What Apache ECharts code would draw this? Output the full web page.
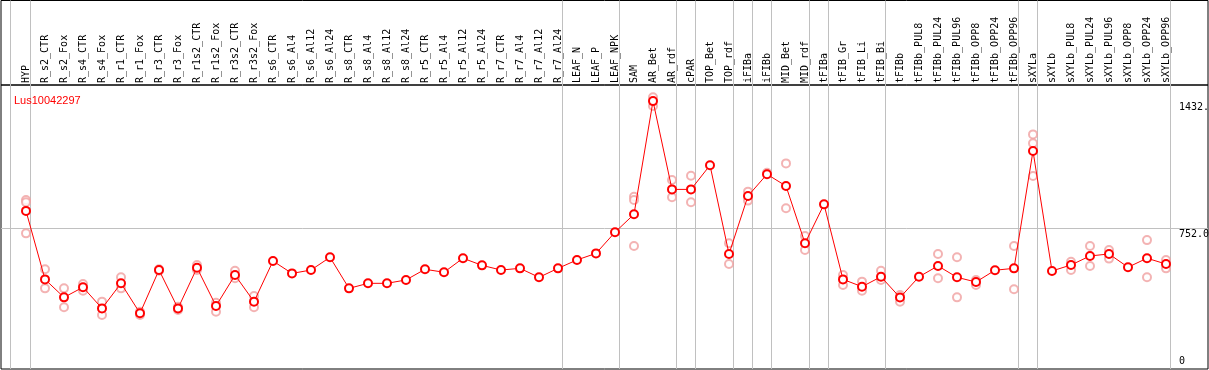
<!DOCTYPE html>
<html>
<head>
<meta charset="utf-8">
<script src="https://cdn.jsdelivr.net/npm/echarts@6/dist/echarts.min.js"></script>
<style>html,body{margin:0;padding:0;background:#fff;}#c{width:1209px;height:370px;}</style>
</head>
<body>
<div id="c"></div>
<script>
const title = 'Lus10042297';
const categories = ['HYP','R_s2_CTR','R_s2_Fox','R_s4_CTR','R_s4_Fox','R_r1_CTR','R_r1_Fox','R_r3_CTR','R_r3_Fox','R_r1s2_CTR','R_r1s2_Fox','R_r3s2_CTR','R_r3s2_Fox','R_s6_CTR','R_s6_Al4','R_s6_Al12','R_s6_Al24','R_s8_CTR','R_s8_Al4','R_s8_Al12','R_s8_Al24','R_r5_CTR','R_r5_Al4','R_r5_Al12','R_r5_Al24','R_r7_CTR','R_r7_Al4','R_r7_Al12','R_r7_Al24','LEAF_N','LEAF_P','LEAF_NPK','SAM','AR_Bet','AR_rdf','cPAR','TOP_Bet','TOP_rdf','iFIBa','iFIBb','MID_Bet','MID_rdf','tFIBa','tFIB_Gr','tFIB_Li','tFIB_Bi','tFIBb','tFIBb_PUL8','tFIBb_PUL24','tFIBb_PUL96','tFIBb_OPP8','tFIBb_OPP24','tFIBb_OPP96','sXYLa','sXYLb','sXYLb_PUL8','sXYLb_PUL24','sXYLb_PUL96','sXYLb_OPP8','sXYLb_OPP24','sXYLb_OPP96'];
const groupSizes = [1,28,3,3,1,2,1,1,2,1,3,7,1,7];
const meanValues = [845,479,383,437,324,458,298,529,324,541,337,502,360,577,511,529,597,431,458,458,476,533,517,592,554,529,538,490,538,583,618,731,827,1432,960,960,1089,615,925,1041,978,672,880,479,440,493,382,493,551,490,465,528,538,1165,524,556,604,615,544,592,561];
const replicates = [[903,891,725],[533,431],[431,330],[454,418],[360,289],[490,431],[306,289],[533,525],[333,315],[556,529],[354,306],[525,485],[390,330],
[],[],[],[],[],[],[],[],[],[],[],[],[],[],[],[],[],[],[],
[921,903,657],[1452,1406],[1010,918],[1033,891],[],[672,561],[948,900],[1049],[1099,859],[711,636],[],[502,449],[467,418],[525,476],
[396,360],[],[615,485],[597,383],[476,449],[],[657,426],
[1254,1206,1032],[],[573,529],[657,551],[636,590],[],[689,490],[583,538]];
const yTickValues = [0, 752, 1432];
const yTickLabels = ['0', '752.0', '1432.'];

// layout
const xMin = (1 - 26) / 19, xMax = (1208 - 26) / 19;
const YMAX = 1518;
const sepOffset = 0.21;
const separators = [-0.842];
let acc = 0;
groupSizes.forEach(g => { acc += g; separators.push(acc - 1 + sepOffset); });
const labelIdx = categories.map((c, i) => i);

const repData = [];
replicates.forEach((arr, i) => arr.forEach(v => repData.push([i, v])));
const meanData = meanValues.map((v, i) => [i, v]);

const mono = 'DejaVu Sans Mono';
const chart = echarts.init(document.getElementById('c'), null, {renderer: 'canvas'});
chart.setOption({
  animation: false,
  backgroundColor: '#fff',
  title: {text: title, left: 9, top: 90, textStyle: {color: '#ff0000', fontSize: 11, fontWeight: 'normal', fontFamily: 'Liberation Sans'}},
  grid: [
    {left: 1, right: 1, top: 0.5, height: 84.5, show: true, borderColor: '#000', borderWidth: 1, backgroundColor: 'transparent', containLabel: false, outerBoundsMode: 'none'},
    {left: 1, right: 1, top: 85, bottom: 1, show: true, borderColor: '#000', borderWidth: 1, backgroundColor: 'transparent', containLabel: false, outerBoundsMode: 'none'}
  ],
  xAxis: [
    {type: 'value', gridIndex: 0, min: xMin, max: xMax, position: 'bottom',
     axisLine: {show: false},
     axisTick: {show: false, customValues: separators},
     splitLine: {show: true, lineStyle: {color: '#c0c0c0', width: 1}},
     axisLabel: {show: true, inside: true, rotate: 90, margin: 2, customValues: labelIdx,
       formatter: v => categories[Math.round(v)] || '', fontFamily: mono, fontSize: 10, color: '#000'}},
    {type: 'value', gridIndex: 1, min: xMin, max: xMax, position: 'top',
     axisLine: {show: false},
     axisTick: {show: false, customValues: separators},
     splitLine: {show: true, lineStyle: {color: '#c0c0c0', width: 1}},
     axisLabel: {show: false}}
  ],
  yAxis: [
    {type: 'value', gridIndex: 0, min: 0, max: 1, show: false},
    {type: 'value', gridIndex: 1, min: 0, max: YMAX, position: 'right', offset: -29,
     axisLine: {show: false},
     axisTick: {show: false, customValues: [yTickValues[1]]},
     splitLine: {show: true, lineStyle: {color: '#c0c0c0', width: 1}},
     axisLabel: {show: true, inside: false, margin: 0, verticalAlign: 'top', align: 'left',
       customValues: yTickValues.slice(1),
       formatter: v => yTickLabels[yTickValues.indexOf(v)],
       fontFamily: mono, fontSize: 10, color: '#000', padding: [1, 0, 0, 0]}},
    {type: 'value', gridIndex: 1, min: 0, max: YMAX, position: 'right', offset: -29,
     axisLine: {show: false},
     axisTick: {show: false},
     splitLine: {show: false},
     axisLabel: {show: true, inside: false, margin: 0, verticalAlign: 'bottom', align: 'left',
       customValues: [yTickValues[0]],
       formatter: v => yTickLabels[yTickValues.indexOf(v)],
       fontFamily: mono, fontSize: 10, color: '#000', padding: [0, 0, 3, 0]}}
  ],
  series: [
    {type: 'scatter', xAxisIndex: 1, yAxisIndex: 1, data: repData, symbol: 'emptyCircle', symbolSize: 8,
     itemStyle: {color: '#f0a0a0', borderColor: '#f0a0a0', borderWidth: 1.2}, z: 2, silent: true},
    {type: 'line', xAxisIndex: 1, yAxisIndex: 1, data: meanData, symbol: 'emptyCircle', symbolSize: 8, showAllSymbol: true,
     lineStyle: {color: '#ff0000', width: 1}, itemStyle: {color: '#ff0000', borderColor: '#ff0000', borderWidth: 1.4}, z: 3, silent: true}
  ]
});
</script>
</body>
</html>
